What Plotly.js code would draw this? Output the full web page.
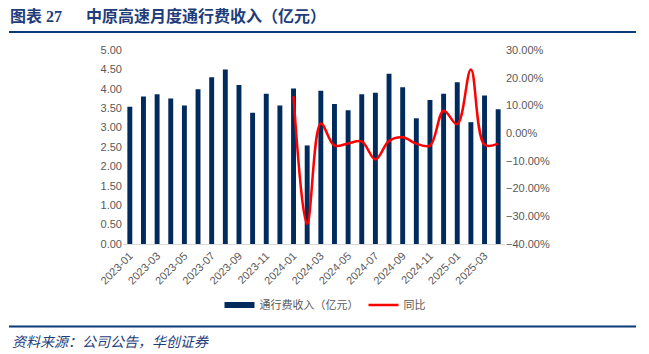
<!DOCTYPE html>
<html>
<head>
<meta charset="utf-8">
<script src="https://cdn.plot.ly/plotly-3.0.1.min.js"></script>
<style>
html,body{margin:0;padding:0;background:#fff;}
#chart{width:649px;height:354px;}
</style>
</head>
<body>
<div id="chart"></div>
<script>
const months = ["2023-01","2023-02","2023-03","2023-04","2023-05","2023-06","2023-07","2023-08","2023-09","2023-10","2023-11","2023-12",
"2024-01","2024-02","2024-03","2024-04","2024-05","2024-06","2024-07","2024-08","2024-09","2024-10","2024-11","2024-12",
"2025-01","2025-02","2025-03","2025-04"];
const tollRevenue = [3.54,3.80,3.86,3.75,3.57,3.99,4.30,4.50,4.10,3.38,3.87,3.57,
4.01,2.54,3.95,3.61,3.45,3.86,3.90,4.39,4.04,3.24,3.71,3.87,
4.17,3.14,3.83,3.47];
const yoyPct = [null,null,null,null,null,null,null,null,null,null,null,null,
13.3,-32.8,3.5,-4.5,-3.7,-3.0,-9.5,-2.8,-1.5,-3.8,-4.5,8.1,
3.2,23.0,-4.2,-3.8];
const tickLabels = ["2023-01","2023-03","2023-05","2023-07","2023-09","2023-11","2024-01","2024-03","2024-05","2024-07","2024-09","2024-11","2025-01","2025-03"];
const seriesNames = ["通行费收入（亿元）","同比"];
const titleText = "图表 27\u3000\u2002中原高速月度通行费收入（亿元）";
const sourceText = "资料来源：公司公告，华创证券";

const L = 123, R = 505, T = 50, B = 244;
const W = 649, H = 354;
const px = x => (x - L) / (R - L);
const py = y => (B - y) / (B - T);

const tickFont = {family: "Liberation Sans, Arial, sans-serif", size: 11, color: "#595959"};
const barColor = "#002b5c";

const traces = [
  {
    type: "bar", name: seriesNames[0], x: months, y: tollRevenue,
    marker: {color: barColor}, width: 0.36, yaxis: "y", showlegend: false
  },
  {
    // legend entry for the bars (wide swatch as in the reference)
    type: "scatter", mode: "lines", name: seriesNames[0], x: [null], y: [null],
    line: {color: barColor, width: 6}, yaxis: "y", hoverinfo: "skip"
  },
  {
    type: "scatter", mode: "lines", name: seriesNames[1], x: months, y: yoyPct,
    line: {color: "#ff0000", width: 2.5, shape: "spline", smoothing: 1.0},
    yaxis: "y2", connectgaps: false
  }
];

const layout = {
  width: W, height: H,
  margin: {l: L, r: W - R, t: T, b: H - B, pad: 0},
  paper_bgcolor: "#ffffff", plot_bgcolor: "#ffffff",
  showlegend: true,
  font: {family: "Liberation Sans, Noto Sans CJK SC, sans-serif", color: "#595959"},
  title: {
    text: titleText,
    font: {family: "Liberation Serif, Noto Sans CJK SC, serif", size: 16, color: "#1f3d7a", weight: "bold"},
    x: 10 / W, xref: "container", xanchor: "left",
    y: 1 - 16 / H, yref: "container", yanchor: "middle"
  },
  xaxis: {
    type: "category", tickmode: "array", tickvals: tickLabels, ticktext: tickLabels,
    tickangle: -45, tickfont: tickFont, showgrid: false, zeroline: false,
    showline: true, linecolor: "#d9d9d9", linewidth: 1, ticks: "",
    range: [-0.5, months.length - 0.5]
  },
  yaxis: {
    range: [0, 5], dtick: 0.5, tick0: 0, tickformat: ".2f", tickfont: tickFont,
    showgrid: false, zeroline: false, showline: false, ticks: ""
  },
  yaxis2: {
    overlaying: "y", side: "right", range: [-40, 30], dtick: 10, tick0: -40,
    tickformat: ".2f", ticksuffix: "%", tickfont: tickFont,
    showgrid: false, zeroline: false, showline: false, ticks: ""
  },
  legend: {
    orientation: "h", x: px(325), xanchor: "center", y: py(305), yanchor: "middle",
    font: {family: "Liberation Sans, Noto Sans CJK SC, sans-serif", size: 11, color: "#595959"},
    itemwidth: 30, traceorder: "normal"
  },
  shapes: [
    {type: "line", xref: "paper", yref: "paper", x0: px(9), x1: px(636), y0: py(32), y1: py(32),
     line: {color: "#0b3a7a", width: 2}},
    {type: "line", xref: "paper", yref: "paper", x0: px(9), x1: px(636), y0: py(326.5), y1: py(326.5),
     line: {color: "#0b3a7a", width: 2}}
  ],
  annotations: [
    {text: sourceText, xref: "paper", yref: "paper", x: px(10), y: py(341), xanchor: "left", yanchor: "middle",
     showarrow: false, font: {family: "Noto Sans CJK SC, sans-serif", size: 14, color: "#1f3d7a", style: "italic"}}
  ]
};

Plotly.newPlot("chart", traces, layout, {displayModeBar: false, staticPlot: true});
</script>
</body>
</html>
